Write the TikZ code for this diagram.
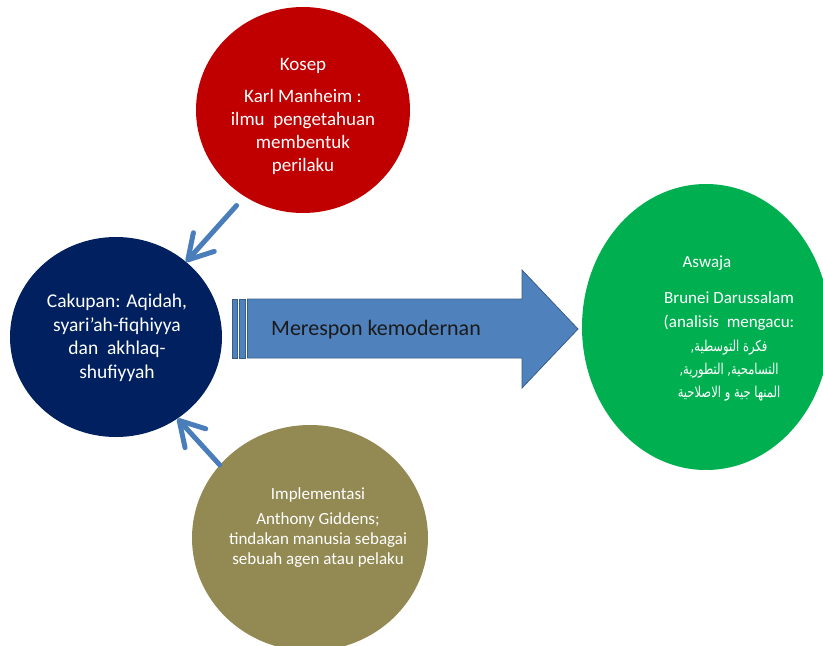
\documentclass[tikz,border=0pt]{standalone}
\usepackage{fontspec}
\usepackage{graphicx}
\setmainfont{Carlito}
\newfontfamily\arabicfont[Script=Arabic]{DejaVu Sans}
\TeXXeTstate=1
\usetikzlibrary{shapes.geometric,arrows.meta}
\definecolor{cred}{HTML}{C00000}
\definecolor{cnavy}{HTML}{002060}
\definecolor{cgreen}{HTML}{00B050}
\definecolor{colive}{HTML}{938953}
\definecolor{arrowfill}{HTML}{4F81BD}
\definecolor{arrowedge}{HTML}{385D8A}
\definecolor{connblue}{HTML}{4A7EBB}
\definecolor{txtdark}{HTML}{1A1A1A}
\newcommand{\arline}[1]{\scalebox{0.77}[1]{\beginR #1\endR}}
\begin{document}
\begin{tikzpicture}[x=1pt,y=-1pt,
  blob/.style={ellipse,inner sep=0pt,draw=none},
  txt/.style={text=white,align=center,inner sep=0pt},
  conn/.style={draw=connblue,line width=5pt,line cap=round,
    -{Straight Barb[length=24pt,width=28pt,line cap=round,line join=round]}},
  stripe/.style={fill=arrowfill,draw=arrowedge,line width=0.8pt}]
\useasboundingbox (0,0) rectangle (823,646);
\fill[white] (0,0) rectangle (823,646);
% circles
\node[blob,fill=cred,minimum width=214pt,minimum height=206pt] (red) at (303,110) {};
\node[blob,fill=cnavy,minimum width=212pt,minimum height=200pt] (navy) at (116,337) {};
\node[blob,fill=cgreen,minimum width=248pt,minimum height=286pt] (green) at (706,327) {};
\node[blob,fill=colive,minimum width=236pt,minimum height=226pt] (olive) at (310,538) {};
% big striped arrow
\draw[stripe] (232,299) rectangle (237,358);
\draw[stripe] (239.5,299) rectangle (245,358);
\draw[stripe] (247.5,299) -- (522,299) -- (522,270) -- (578,329) -- (522,388) -- (522,358) -- (247.5,358) -- cycle;
\node[text=txtdark,inner sep=0pt,font=\fontsize{22}{26}\selectfont] (resp) at (376,330) {Merespon kemodernan};
% texts
\node[txt,font=\fontsize{19}{23}\selectfont] (redtxt) at (303,116)
  {Kosep\\[9pt]Karl Manheim :\\ilmu~~pengetahuan\\membentuk\\perilaku};
\node[txt,font=\fontsize{19.5}{23.5}\selectfont] (navytxt) at (117,338)
  {Cakupan: Aqidah,\\syari’ah-fiqhiyya\\dan~~akhlaq-\\shufiyyah};
\node[txt,font=\fontsize{17}{24}\selectfont] (aswaja) at (707,263) {Aswaja};
\node[txt,font=\fontsize{17}{24}\selectfont] (brunei) at (729,311)
  {Brunei Darussalam\\(analisis~~mengacu:};
\node[txt,font=\arabicfont\fontsize{15}{23}\selectfont] (arab) at (729,371)
  {\arline{فكرة التوسطية,}\\\arline{التسامحية, التطورية,}\\\arline{المنها جية و الاصلاحية}};
\node[txt,font=\fontsize{17}{20}\selectfont] (olivetxt) at (318,528)
  {Implementasi\\[5pt]Anthony Giddens;\\tindakan manusia sebagai\\sebuah agen atau pelaku};
% connectors
\draw[conn,shorten <=12pt] (red.236) -- (navy.47);
\draw[conn] (olive.141) -- (navy.-53);
\end{tikzpicture}
\end{document}
